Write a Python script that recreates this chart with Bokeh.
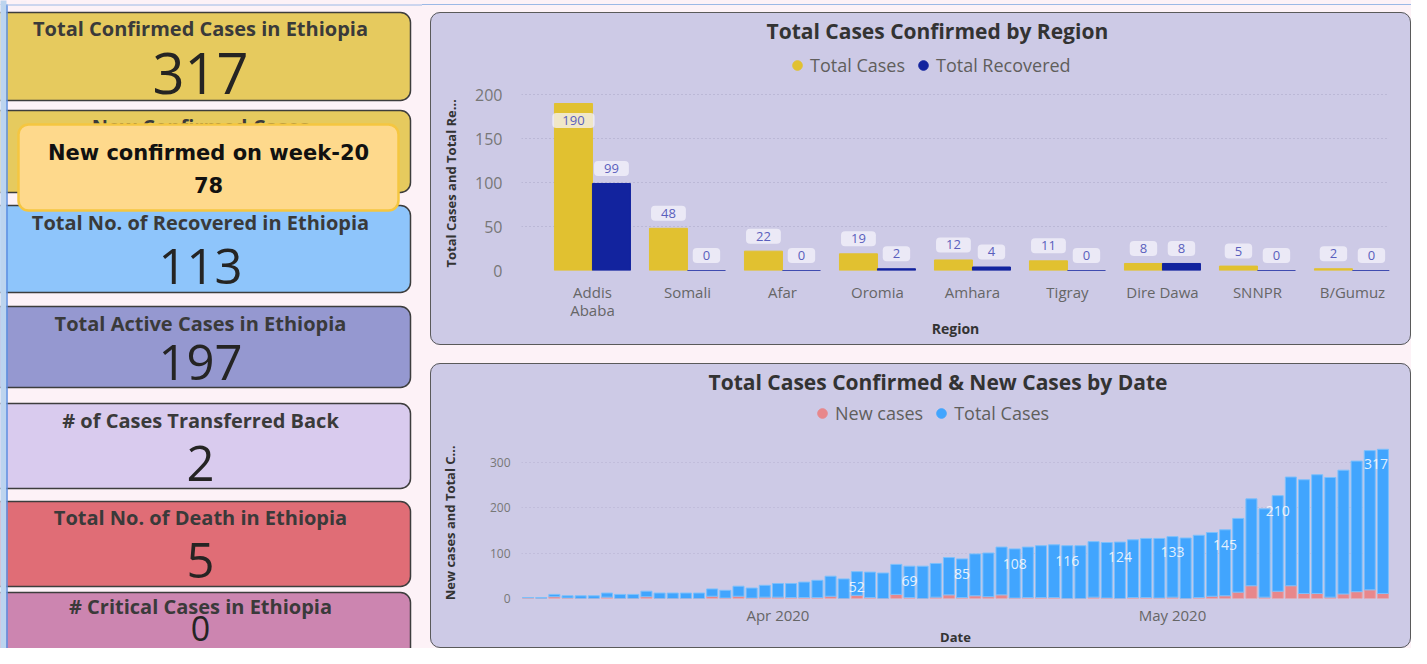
import numpy as np
import pandas as pd
from bokeh.plotting import figure
from bokeh.models import (Range1d, FixedTicker, Legend, LegendItem, ColumnDataSource,
                          MonthsTicker, DatetimeTickFormatter, Spacer)
from bokeh.layouts import row, column
from bokeh.core.properties import value
from bokeh.embed import file_html
from bokeh.resources import INLINE

# ---------------- data ----------------
card_titles = ["Total Confirmed Cases in Ethiopia", "New Confirmed Cases",
               "Total No. of Recovered in Ethiopia", "Total Active Cases in Ethiopia",
               "# of Cases Transferred Back", "Total No. of Death in Ethiopia",
               "# Critical Cases in Ethiopia"]
card_values = ["317", "78", "113", "197", "2", "5", "0"]
tooltip_title = "New confirmed on week-20"
tooltip_value = "78"

regions = ["Addis Ababa", "Somali", "Afar", "Oromia", "Amhara", "Tigray",
           "Dire Dawa", "SNNPR", "B/Gumuz"]
region_total_cases = [190, 48, 22, 19, 12, 11, 8, 5, 2]
region_total_recovered = [99, 0, 0, 2, 4, 0, 8, 0, 0]

date_start = "2020-03-13"
daily_total_cases = [1, 2, 5, 5, 6, 6, 9, 9, 9, 12, 12, 12, 12, 12, 16, 17, 22, 22, 26, 30,
                     31, 34, 38, 44, 43, 52, 56, 56, 66, 69, 71, 74, 82, 85, 92, 96, 105, 108,
                     111, 114, 116, 116, 116, 122, 122, 124, 127, 130, 131, 133, 133, 137, 140,
                     145, 162, 191, 194, 210, 239, 250, 261, 263, 272, 287, 306, 317]
daily_new_cases = [1, 0, 4, 1, 0, 0, 3, 0, 0, 4, 0, 0, 0, 0, 5, 1, 5, 1, 3, 3,
                   2, 2, 2, 5, 0, 7, 2, 0, 9, 2, 0, 3, 8, 2, 6, 4, 8, 1,
                   2, 2, 2, 0, 0, 3, 1, 0, 2, 2, 1, 3, 0, 2, 5,
                   6, 14, 28, 3, 16, 28, 11, 11, 3, 10, 15, 19, 11]
labelled_days = [25, 29, 33, 37, 41, 45, 49, 53, 57, 65]

# ---------------- styles ----------------
PAGE_BG = "#fdf2f7"
PANEL_BG = "#cdcae6"
YELLOW = "#e1c130"
NAVY = "#12239e"
BLUE = "#41a5fe"
PINK = "#e8878b"
CARD_FONT = "Open Sans"
CHART_FONT = "Open Sans"
NB = "\u00a0"
TOP_LINE_BG = ("linear-gradient(to bottom, #fdf2f7 0px, #fdf2f7 4px, #9cb9e6 4px, "
               "#9cb9e6 5px, #fdf2f7 5px, #fdf2f7 100%)")

card_fills = ["#e6ca5e", "#e6ca5e", "#8ec5fb", "#9598d0", "#d9cbee", "#e06d76", "#cc85b0"]
card_tops = [12, 110, 205, 306, 403, 501, 592]
card_bottoms = [100, 192, 292, 387, 488, 586, 720]
title_ys = [28, 126, 222, 323, 420, 517, 606]
value_ys = [73, 165, 266, 362, 463, 560, 628]
value_sizes = ["56px", "49px", "49px", "49px", "49px", "49px", "34px"]

# ---------------- cards ----------------
cards = figure(width=422, height=648, x_range=Range1d(0, 422), y_range=Range1d(648, 0),
               output_backend="svg", toolbar_location=None, min_border=0)
cards.axis.visible = False
cards.grid.visible = False
cards.outline_line_color = None
cards.background_fill_color = PAGE_BG
cards.border_fill_color = PAGE_BG

cards.quad(left=-20, right=410, top=card_tops, bottom=card_bottoms, fill_color=card_fills,
           line_color="#3d3d3d", line_width=1.5, border_radius=10)
csrc = ColumnDataSource(dict(x=[200] * len(card_titles), ty=title_ys, vy=value_ys,
                             title=card_titles, val=card_values, vs=value_sizes))
cards.text(x="x", y="ty", text="title", source=csrc, text_font=value(CARD_FONT),
           text_font_style="bold", text_font_size="20px", text_color="#3a3a3a",
           text_align="center", text_baseline="middle")
cards.text(x="x", y="vy", text="val", source=csrc, text_font=value(CARD_FONT),
           text_font_size="vs", text_color="#252423",
           text_align="center", text_baseline="middle")
# tooltip
cards.quad(left=18, right=398, top=124, bottom=210, fill_color="#fed98c",
           line_color="#f5c640", line_width=2.5, border_radius=10)
cards.text(x=[208, 208], y=[152, 184], text=[tooltip_title, tooltip_value],
           text_font=value("DejaVu Sans"), text_font_style="bold", text_font_size="21px",
           text_color="#111111", text_align="center", text_baseline="middle")
# dashboard frame (left strip + top line)
cards.quad(left=-5, right=6, top=-5, bottom=700, fill_color="#bcd4ef", line_color=None)
cards.segment(x0=[6.5], y0=[4], x1=[6.5], y1=[700], line_color="#5b8ee0", line_width=1.5)
cards.segment(x0=[6], y0=[4.5], x1=[430], y1=[4.5], line_color="#9cb9e6", line_width=1)

panel_styles = {"background-color": PANEL_BG, "border-radius": "10px", "overflow": "hidden",
                "outline": "1.5px solid #5a5a5a", "outline-offset": "-1.5px"}


def style_panel(p, title, offset):
    p.background_fill_alpha = 0
    p.border_fill_alpha = 0
    p.outline_line_color = None
    p.xgrid.visible = False
    p.ygrid.grid_line_color = "#a9a6c6"
    p.ygrid.grid_line_dash = "1 3"
    for ax in (p.xaxis, p.yaxis):
        ax.axis_line_color = None
        ax.major_tick_line_color = None
        ax.minor_tick_line_color = None
        ax.major_tick_out = 0
        ax.major_label_text_font = CHART_FONT
        ax.axis_label_text_font = CHART_FONT
        ax.axis_label_text_font_style = "bold"
        ax.axis_label_text_color = "#333333"
        ax.axis_label_text_font_size = "13px"
    p.title.text = title
    p.title.align = "left"
    p.title.offset = offset
    p.title.standoff = 2
    p.title.text_font = CHART_FONT
    p.title.text_font_style = "bold"
    p.title.text_font_size = "21px"
    p.title.text_color = "#333333"


def add_legend(p, items, loc):
    p.add_layout(Legend(items=items, location=loc, orientation="horizontal",
                        background_fill_alpha=0, border_line_color=None,
                        label_text_font=CHART_FONT, label_text_font_size="18px",
                        label_text_color="#605e5c", glyph_width=24, glyph_height=24,
                        label_height=20, label_standoff=1, spacing=6, padding=0,
                        margin=0))


# ---------------- top chart ----------------
top = figure(width=981, height=333, x_range=Range1d(-0.747, 8.39), y_range=Range1d(0, 256),
             output_backend="svg", toolbar_location=None, min_border_left=91,
             min_border_right=22, min_border_top=33, min_border_bottom=75,
             styles=panel_styles)
style_panel(top, "Total Cases Confirmed by Region", 245)
xi = np.arange(len(regions))
top.vbar(x=xi - 0.2, top=region_total_cases, width=0.4, color=YELLOW)
top.vbar(x=xi + 0.2, top=region_total_recovered, width=0.4, color=NAVY)

lab_x = list(xi - 0.2) + list(xi + 0.2)
lab_v = region_total_cases + region_total_recovered
lab_off = [17 if v == max(lab_v) else -15 for v in lab_v]
top.text(x=lab_x, y=lab_v, text=[str(v) for v in lab_v], y_offset=lab_off,
         text_font=value(CHART_FONT), text_font_size="13px", text_color="#5a5fbd",
         text_align="center", text_baseline="middle",
         background_fill_color="#f4f3fb", background_fill_alpha=0.75,
         padding=[10, 3], border_radius=4)

top.yaxis.ticker = FixedTicker(ticks=[0, 50, 100, 150, 200])
top.yaxis.major_label_text_font_size = "16px"
top.yaxis.major_label_text_color = "#777777"
top.yaxis.major_label_standoff = 19
top.yaxis.axis_label = "Total Cases and Total Re…" + NB * 15
top.yaxis.axis_label_standoff = 12
top.xaxis.ticker = FixedTicker(ticks=list(xi))
top.xaxis.major_label_overrides = {int(i): r.replace("Addis Ababa", "Addis\nAbaba")
                                   for i, r in zip(xi, regions)}
top.xaxis.major_label_text_font_size = "15px"
top.xaxis.major_label_text_line_height = 0.9
top.xaxis.major_label_text_color = "#666666"
top.xaxis.major_label_standoff = 11
top.xaxis.axis_label = "Region"
top.xaxis.axis_label_text_font_size = "14px"
top.xaxis.axis_label_standoff = -4

t1 = top.scatter(x=[-100], y=[-100], marker="circle", size=11, color=YELLOW)
t2 = top.scatter(x=[-100], y=[-100], marker="circle", size=11, color=NAVY)
add_legend(top, [LegendItem(label="Total Cases", renderers=[t1]),
                 LegendItem(label="Total Recovered", renderers=[t2])], (264, 193))

# ---------------- bottom chart ----------------
dates = pd.date_range(date_start, periods=len(daily_total_cases), freq="D")
half_day = pd.Timedelta(hours=12)
dsrc = ColumnDataSource(dict(date=dates, new=daily_new_cases, total=daily_total_cases))
bot = figure(width=981, height=285, x_axis_type="datetime",
             x_range=Range1d(dates[0] - half_day, dates[-1] + half_day),
             y_range=Range1d(0, 444), output_backend="svg", toolbar_location=None,
             min_border_left=91, min_border_right=22, min_border_top=33,
             min_border_bottom=47, styles=panel_styles)
style_panel(bot, "Total Cases Confirmed & New Cases by Date", 187)
bot.ygrid.grid_line_color = "#b4b1d0"
day_ms = 86400000
bot.vbar_stack(["new", "total"], x="date", width=0.84 * day_ms, source=dsrc,
               fill_color=[PINK, BLUE], line_color=["#eaa0a4", "#7cc0fc"], line_width=1)

stack_top = [daily_total_cases[i] + daily_new_cases[i] for i in labelled_days]
lab_xoff = [-7 if i == len(daily_total_cases) - 1 else 0 for i in labelled_days]
bot.text(x=[dates[i] for i in labelled_days], y=stack_top,
         text=[str(daily_total_cases[i]) for i in labelled_days], y_offset=15,
         x_offset=lab_xoff,
         text_font=value(CHART_FONT), text_font_size="14px", text_color="white",
         text_alpha=0.85, text_align="center", text_baseline="middle")

bot.yaxis.ticker = FixedTicker(ticks=[0, 100, 200, 300])
bot.yaxis.major_label_text_font_size = "12px"
bot.yaxis.major_label_text_color = "#777777"
bot.yaxis.major_label_standoff = 11
bot.yaxis.axis_label = "New cases and Total C…" + NB * 15
bot.yaxis.axis_label_standoff = 28
bot.xaxis.ticker = MonthsTicker(months=list(range(12)))
bot.xaxis.formatter = DatetimeTickFormatter(months="%b %Y", days="%b %Y", years="%b %Y")
bot.xaxis.major_label_text_font_size = "15px"
bot.xaxis.major_label_text_color = "#666666"
bot.xaxis.major_label_standoff = 6
bot.xaxis.axis_label = "Date"
bot.xaxis.axis_label_standoff = 0

b1 = bot.scatter(x=[-100], y=[-100], marker="circle", size=11, color=PINK)
b2 = bot.scatter(x=[-100], y=[-100], marker="circle", size=11, color=BLUE)
add_legend(bot, [LegendItem(label="New cases", renderers=[b1]),
                 LegendItem(label="Total Cases", renderers=[b2])], (289, 173))

right = column(Spacer(width=981, height=12), top, Spacer(width=981, height=18), bot,
               styles={"background": TOP_LINE_BG})
layout = row(cards, Spacer(width=8, height=648), right, styles={"background": TOP_LINE_BG})

open("out.html", "w").write(file_html(layout, INLINE))
